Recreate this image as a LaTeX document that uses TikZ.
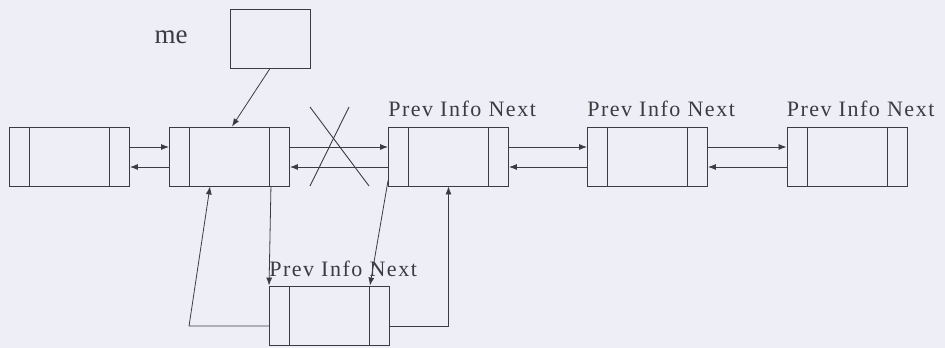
\documentclass[tikz,border=0pt]{standalone}
\usepackage{fontspec}
\setmainfont{Liberation Serif}
\usetikzlibrary{arrows.meta}
\definecolor{bg}{RGB}{238,238,246}
\definecolor{ink}{RGB}{60,60,64}
\tikzset{
  cell/.style={draw=ink, line width=0.9pt, minimum width=120pt, minimum height=59pt, inner sep=0pt,
    path picture={
      \draw[ink, line width=0.9pt] ([xshift=20pt]path picture bounding box.north west) -- ([xshift=20pt]path picture bounding box.south west);
      \draw[ink, line width=0.9pt] ([xshift=-20pt]path picture bounding box.north east) -- ([xshift=-20pt]path picture bounding box.south east);
    }},
  plain/.style={draw=ink, line width=0.9pt, minimum width=80pt, minimum height=59pt, inner sep=0pt},
  arr/.style={draw=ink, line width=0.8pt, -{Latex[length=8pt,width=6pt]}},
  lbl/.style={anchor=base west, inner sep=0pt, font=\fontsize{22pt}{24pt}\selectfont\addfontfeature{LetterSpace=7}, text=ink},
  ln/.style={draw=ink, line width=0.9pt}
}
\begin{document}
\begin{tikzpicture}[x=1pt, y=-1pt]
\fill[bg] (0,0) rectangle (945,348);
\useasboundingbox (0,0) rectangle (945,348);
% boxes
\node[cell] (b1) at (69.5,156.5) {};
\node[cell] (b2) at (229.5,156.5) {};
\node[cell] (b3) at (448.5,156.5) {};
\node[cell] (b4) at (647.5,156.5) {};
\node[cell] (b5) at (847,156.5) {};
\node[cell] (b6) at (329.5,315.5) {};
\node[plain] (top) at (270,38.5) {};
% labels
\node[anchor=base, inner sep=0pt, font=\fontsize{27pt}{29pt}\selectfont, text=ink] (me) at (171,43) {me};
\node[lbl] (l3) at ([yshift=10pt]b3.north west) {Prev Info Next};
\node[lbl] (l4) at ([yshift=10pt]b4.north west) {Prev Info Next};
\node[lbl] (l5) at ([yshift=10pt]b5.north west) {Prev Info Next};
\node[lbl] (l6) at ([yshift=9pt]b6.north west) {Prev Info Next};
% horizontal links
\draw[arr] ([yshift=9.5pt]b1.east) -- ([yshift=9.5pt]b2.west);
\draw[arr] ([yshift=-10.5pt]b2.west) -- ([yshift=-10.5pt]b1.east);
\draw[arr] ([yshift=9.5pt]b2.east) -- ([yshift=9.5pt]b3.west);
\draw[arr] ([yshift=-10.5pt]b3.west) -- ([yshift=-10.5pt]b2.east);
\draw[arr] ([yshift=9.5pt]b3.east) -- ([yshift=9.5pt]b4.west);
\draw[arr] ([yshift=-10.5pt]b4.west) -- ([yshift=-10.5pt]b3.east);
\draw[arr] ([yshift=9.5pt]b4.east) -- ([yshift=9.5pt]b5.west);
\draw[arr] ([yshift=-10.5pt]b5.west) -- ([yshift=-10.5pt]b4.east);
% cross
\coordinate (x1) at (310,107);
\coordinate (x2) at (369,186);
\coordinate (x3) at (349,107);
\coordinate (x4) at (310,186);
\draw[ln] (x1) -- (x2);
\draw[ln] (x3) -- (x4);
% me pointer
\draw[arr] (top.south) -- ([xshift=2.5pt]b2.north);
% insertion links
\draw[arr] ([xshift=-19pt]b2.south east) -- (b6.north west);
\draw[arr] ([yshift=6pt]b3.south west) -- ([xshift=-20pt]b6.north east);
\draw[arr] ([yshift=-10.5pt]b6.west) -- ++(-80,0) -- ([xshift=-19.5pt]b2.south);
\draw[arr] ([yshift=-10.5pt]b6.east) -| (b3.south);
\end{tikzpicture}
\end{document}
